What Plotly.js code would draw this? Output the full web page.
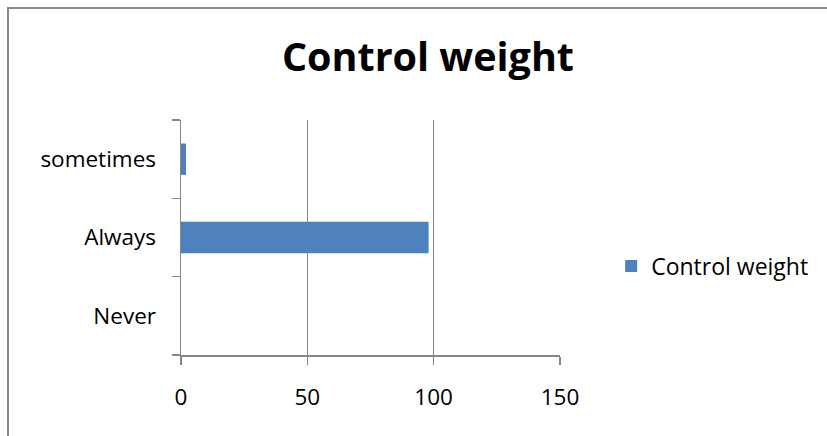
<!DOCTYPE html>
<html>
<head>
<meta charset="utf-8">
<script src="https://cdn.plot.ly/plotly-3.0.1.min.js"></script>
<style>
  html, body { margin: 0; padding: 0; background: #ffffff; overflow: hidden; }
  #wrap { position: relative; width: 827px; height: 436px; }
  #chart { position: absolute; left: 0; top: 0; width: 827px; height: 436px; }
  #chart text { font-variant-ligatures: none; }
  #frame {
    position: absolute; left: 7px; top: 7px; width: 900px; height: 500px;
    border-left: 2px solid #878787; border-top: 2px solid #878787;
    pointer-events: none;
  }
</style>
</head>
<body>
<div id="wrap">
  <div id="chart"></div>
  <div id="frame"></div>
</div>
<script>
// Survey answers for "Control weight"
const categories = ["Never", "Always", "sometimes"];
const values = [0, 98, 2];
const seriesName = "Control weight";
const xTicks = [0, 50, 100, 150];

const gridGray = "#868686";
const fontFamily = "'Open Sans', 'Noto Sans', sans-serif";

const trace = {
  type: "bar",
  orientation: "h",
  y: categories,
  x: values,
  name: seriesName,
  marker: { color: "#4F81BD" },
  showlegend: true,
  hoverinfo: "x+y"
};

const layout = {
  width: 827,
  height: 436,
  margin: { l: 181, r: 267, t: 120, b: 81, pad: 0 },
  paper_bgcolor: "#ffffff",
  plot_bgcolor: "#ffffff",
  font: { family: fontFamily, color: "#000000", size: 22 },
  title: {
    text: "<b>Control weight</b>",
    font: { family: fontFamily, size: 39.5, color: "#000000" },
    x: 0.5175, xref: "container", xanchor: "center",
    y: 0.868, yref: "container", yanchor: "middle"
  },
  bargap: 0.6,
  xaxis: {
    range: [0, 150],
    tickvals: xTicks,
    ticktext: xTicks.map(String),
    showgrid: true,
    gridcolor: gridGray,
    gridwidth: 1.5,
    zeroline: false,
    showline: true,
    linecolor: gridGray,
    linewidth: 1.5,
    ticks: "outside",
    ticklen: 8,
    tickcolor: gridGray,
    tickwidth: 1.5,
    ticklabelstandoff: 13,
    tickfont: { family: fontFamily, size: 22.5, color: "#000000" },
    fixedrange: true
  },
  yaxis: {
    type: "category",
    categoryorder: "array",
    categoryarray: categories,
    tickson: "boundaries",
    showgrid: false,
    zeroline: false,
    showline: true,
    linecolor: gridGray,
    linewidth: 1.5,
    ticks: "outside",
    ticklen: 8,
    tickcolor: gridGray,
    tickwidth: 1.5,
    ticklabelstandoff: 19,
    tickfont: { family: fontFamily, size: 22.5, color: "#000000" },
    fixedrange: true
  },
  showlegend: true,
  legend: {
    x: 1.135, xanchor: "left",
    y: 0.379, yanchor: "middle",
    font: { family: fontFamily, size: 23, color: "#000000" },
    bgcolor: "rgba(0,0,0,0)"
  }
};

Plotly.newPlot("chart", [trace], layout, { displayModeBar: false, staticPlot: true });
</script>
</body>
</html>
